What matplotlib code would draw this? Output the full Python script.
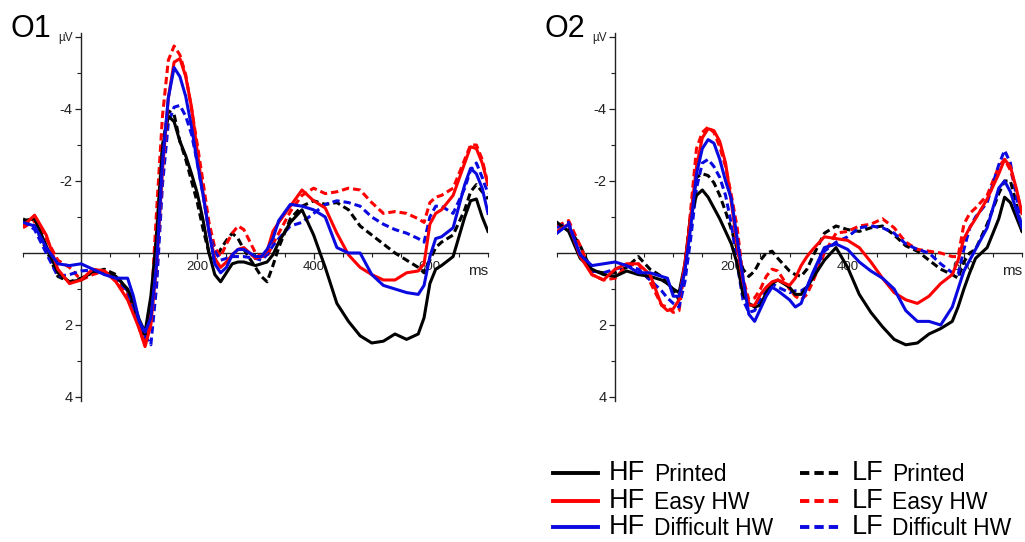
import matplotlib.pyplot as plt
from matplotlib.lines import Line2D

plt.rcParams['font.family'] = ['Liberation Sans', 'DejaVu Sans']

# sample times (ms) shared by every waveform
time_ms = [-100, -80, -60, -40, -20, 0, 20, 40, 60, 80, 90, 100, 110, 120, 130,
           140, 150, 160, 170, 180, 190, 200, 210, 220, 230, 240, 250, 260, 270, 280,
           300, 310, 320, 330, 340, 360, 380, 400, 420, 440, 460, 480, 500, 520, 540,
           560, 580, 590, 600, 610, 620, 640, 660, 670, 680, 690, 700]

# ---- O1 (µV, negative plotted up) ----
o1_hf_printed = [-0.9, -0.95, -0.2, 0.55, 0.8, 0.75, 0.5, 0.55, 0.65, 1.0, 1.35, 1.85, 2.2, 1.2, -0.4,
                 -2.9, -3.8, -3.65, -3.1, -2.7, -2.2, -1.65, -0.9, 0.0, 0.6, 0.8, 0.55, 0.3, 0.25, 0.25,
                 0.35, 0.3, 0.25, 0.05, -0.3, -0.85, -1.2, -0.5, 0.4, 1.4, 1.9, 2.3, 2.5, 2.45, 2.25,
                 2.4, 2.25, 1.8, 0.85, 0.45, 0.35, 0.1, -1.0, -1.45, -1.5, -1.0, -0.6]
o1_hf_easy = [-0.75, -1.05, -0.5, 0.45, 0.85, 0.75, 0.45, 0.5, 0.8, 1.3, 1.7, 2.1, 2.6, 2.0, 0.3,
              -2.3, -4.3, -5.3, -5.4, -4.9, -4.05, -2.8, -1.65, -0.6, 0.15, 0.4, 0.25, 0.05, -0.1, -0.15,
              0.15, 0.1, -0.05, -0.6, -0.85, -1.3, -1.75, -1.45, -1.25, -0.55, 0.05, 0.4, 0.6, 0.75, 0.75,
              0.55, 0.5, 0.3, -0.8, -1.1, -1.2, -1.6, -2.5, -2.95, -2.9, -2.5, -1.9]
o1_hf_diff = [-0.85, -0.75, -0.15, 0.3, 0.35, 0.3, 0.45, 0.6, 0.7, 0.7, 1.2, 1.9, 2.2, 1.8, 0.3,
              -2.5, -4.3, -5.15, -4.9, -4.35, -3.5, -2.5, -1.6, -0.6, 0.3, 0.55, 0.4, 0.05, -0.1, -0.1,
              0.1, 0.1, -0.1, -0.4, -0.9, -1.35, -1.3, -1.2, -1.0, -0.15, 0.0, 0.0, 0.6, 0.9, 1.0,
              1.1, 1.15, 0.9, 0.1, -0.4, -0.45, -0.7, -1.9, -2.35, -2.2, -1.8, -1.1]
o1_lf_printed = [-0.95, -0.75, -0.1, 0.65, 0.8, 0.7, 0.55, 0.45, 0.6, 1.05, 1.6, 2.0, 2.4, 1.5, -0.6,
                 -3.0, -3.95, -3.85, -3.1, -2.6, -2.0, -1.4, -0.65, 0.0, 0.2, -0.1, -0.35, -0.55, -0.4, -0.1,
                 0.4, 0.65, 0.8, 0.35, -0.15, -0.95, -1.3, -1.45, -1.35, -1.4, -1.2, -0.75, -0.5, -0.25, 0.0,
                 0.2, 0.4, 0.55, 0.2, -0.15, -0.3, -0.5, -1.2, -1.7, -1.9, -1.7, -1.5]
o1_lf_easy = [-0.7, -0.9, -0.4, 0.2, 0.4, 0.75, 0.6, 0.5, 0.75, 1.15, 1.6, 2.1, 2.55, 1.6, -1.2,
              -3.8, -5.35, -5.75, -5.5, -4.95, -4.0, -3.0, -1.95, -0.85, -0.15, 0.1, -0.25, -0.55, -0.75, -0.65,
              0.0, 0.1, 0.1, -0.25, -0.55, -1.15, -1.6, -1.8, -1.65, -1.7, -1.8, -1.75, -1.4, -1.1, -1.15,
              -1.1, -0.95, -0.85, -1.4, -1.55, -1.6, -1.8, -2.6, -3.0, -3.0, -2.6, -1.9]
o1_lf_diff = [-0.9, -0.65, 0.0, 0.65, 0.6, 0.5, 0.47, 0.55, 0.7, 1.05, 1.55, 1.95, 2.3, 2.55, 0.9,
              -1.9, -3.6, -4.05, -4.1, -3.8, -3.3, -2.5, -1.6, -0.6, -0.05, 0.2, 0.15, 0.1, 0.1, 0.1,
              0.15, 0.2, 0.05, -0.2, -0.4, -0.75, -0.85, -1.1, -1.35, -1.45, -1.4, -1.3, -1.0, -0.8, -0.65,
              -0.55, -0.4, -0.3, -1.0, -1.3, -1.3, -1.1, -1.8, -2.3, -2.5, -2.1, -1.65]

# ---- O2 ----
o2_hf_printed = [-0.85, -0.6, 0.15, 0.45, 0.6, 0.65, 0.5, 0.6, 0.65, 0.75, 0.85, 1.0, 1.1, 0.3, -1.0,
                 -1.6, -1.75, -1.55, -1.25, -0.95, -0.6, -0.25, 0.3, 1.15, 1.4, 1.5, 1.45, 1.1, 0.85, 0.75,
                 0.95, 1.15, 1.15, 0.95, 0.7, 0.2, -0.15, 0.4, 1.15, 1.65, 2.05, 2.4, 2.55, 2.5, 2.25,
                 2.1, 1.9, 1.5, 1.0, 0.55, 0.15, -0.15, -0.95, -1.55, -1.4, -1.0, -0.6]
o2_hf_easy = [-0.6, -0.8, 0.1, 0.6, 0.75, 0.45, 0.3, 0.3, 0.6, 1.45, 1.6, 1.55, 1.3, 0.3, -1.0,
              -2.4, -3.2, -3.45, -3.4, -3.1, -2.5, -1.4, -0.2, 0.8, 1.45, 1.45, 1.15, 0.95, 0.8, 0.75,
              0.9, 0.7, 0.35, 0.1, -0.1, -0.45, -0.4, -0.35, -0.15, 0.25, 0.7, 1.1, 1.3, 1.4, 1.2,
              0.85, 0.6, 0.2, -0.4, -0.7, -0.95, -1.5, -2.2, -2.6, -2.4, -1.8, -1.1]
o2_hf_diff = [-0.55, -0.8, 0.05, 0.35, 0.3, 0.25, 0.35, 0.55, 0.55, 0.65, 0.7, 1.2, 1.2, 0.5, -0.7,
              -2.2, -2.9, -3.15, -3.05, -2.6, -2.0, -1.5, -0.4, 0.7, 1.7, 1.9, 1.55, 1.2, 0.95, 1.05,
              1.3, 1.5, 1.4, 0.95, 0.55, -0.15, -0.25, -0.1, 0.25, 0.5, 0.7, 1.0, 1.6, 1.9, 1.9,
              2.0, 1.5, 1.0, 0.5, 0.2, -0.1, -0.7, -1.8, -2.0, -1.7, -1.2, -0.7]
o2_lf_printed = [-0.8, -0.7, -0.2, 0.5, 0.55, 0.55, 0.4, 0.1, 0.45, 0.65, 0.85, 1.05, 1.3, 0.4, -1.0,
                 -2.1, -2.2, -2.15, -1.95, -1.6, -1.15, -0.65, -0.1, 0.45, 0.65, 0.5, 0.2, 0.0, -0.05, 0.15,
                 0.5, 0.6, 0.65, 0.45, 0.1, -0.55, -0.75, -0.65, -0.6, -0.7, -0.75, -0.5, -0.2, -0.05, 0.2,
                 0.45, 0.6, 0.7, 0.25, 0.0, -0.1, -0.8, -1.65, -2.0, -2.0, -1.4, -0.6]
o2_lf_easy = [-0.75, -0.9, -0.2, 0.6, 0.75, 0.7, 0.35, 0.3, 0.8, 1.45, 1.5, 1.65, 1.6, 0.4, -1.2,
              -2.9, -3.35, -3.5, -3.35, -2.95, -2.4, -1.6, -0.7, 0.7, 1.3, 1.25, 1.0, 0.65, 0.45, 0.5,
              1.0, 1.2, 1.3, 1.15, 0.8, 0.0, -0.55, -0.6, -0.75, -0.8, -0.95, -0.7, -0.3, -0.1, -0.05,
              0.0, 0.1, 0.1, -0.8, -1.1, -1.25, -1.6, -2.4, -2.6, -2.3, -1.75, -1.1]
o2_lf_diff = [-0.7, -0.85, 0.1, 0.5, 0.55, 0.45, 0.35, 0.45, 0.75, 1.05, 1.25, 1.4, 1.5, 0.8, -0.4,
              -1.8, -2.5, -2.6, -2.4, -2.1, -1.6, -0.8, 0.3, 1.3, 1.65, 1.6, 1.3, 1.0, 0.85, 0.95,
              1.1, 1.05, 1.05, 0.95, 0.6, -0.05, -0.3, -0.45, -0.7, -0.75, -0.7, -0.55, -0.25, -0.1, 0.0,
              0.3, 0.55, 0.6, -0.1, -0.7, -1.0, -1.4, -2.45, -2.85, -2.5, -1.6, -0.6]

condition_names = ["Printed", "Easy HW", "Difficult HW"]
condition_colors = ["#000000", "#ff0000", "#0a0ae0"]

DASHES = (2.4, 1.3)
LW = 2.2


def draw_panel(ax, hf_list, lf_list):
    # dashed (LF) underneath, solid (HF) on top
    for vals, col in zip(lf_list, condition_colors):
        ax.plot(time_ms, vals, color=col, lw=LW, dashes=DASHES, zorder=3)
    for vals, col in zip(hf_list, condition_colors):
        ax.plot(time_ms, vals, color=col, lw=LW, zorder=4)

    ax.set_xlim(-100, 700)
    ax.set_ylim(4.1, -6.1)
    ax.spines['left'].set_position(('data', 0))
    ax.spines['bottom'].set_position(('data', 0))
    ax.spines['top'].set_visible(False)
    ax.spines['right'].set_visible(False)
    for s in ('left', 'bottom'):
        ax.spines[s].set_linewidth(1.0)
        ax.spines[s].set_color('#222222')

    ax.set_xticks([200, 400, 600])
    ax.set_xticklabels(['200', '400', '600'], fontsize=9.5, color='#222222')
    ax.set_xticks(range(-100, 701, 50), minor=True)
    ax.set_yticks([-6, -4, -2, 2, 4])
    ax.set_yticklabels(['µV', '-4', '-2', '2', '4'], fontsize=10.5, color='#222222')
    ax.get_yticklabels()[0].set_fontsize(8.5)
    ax.set_yticks([-5, -3, -1, 1, 3], minor=True)
    ax.tick_params(axis='both', which='major', direction='out', length=4, width=0.9,
                   color='#222222', pad=2)
    ax.tick_params(axis='both', which='minor', direction='out', length=3, width=0.8,
                   color='#222222')
    ax.text(700, 0.3, 'ms', ha='right', va='top', fontsize=11, color='#222222')
    ax.patch.set_alpha(0)


fig = plt.figure(figsize=(10.25, 5.42), dpi=100)
ax1 = fig.add_axes([0.0224, 0.2609, 0.4537, 0.6775])
ax2 = fig.add_axes([0.5434, 0.2609, 0.4537, 0.6775])

draw_panel(ax1, [o1_hf_printed, o1_hf_easy, o1_hf_diff], [o1_lf_printed, o1_lf_easy, o1_lf_diff])
draw_panel(ax2, [o2_hf_printed, o2_hf_easy, o2_hf_diff], [o2_lf_printed, o2_lf_easy, o2_lf_diff])

fig.text(10 / 1025, 1 - 37 / 542, "O1", fontsize=22, va='baseline')
fig.text(545 / 1025, 1 - 37 / 542, "O2", fontsize=22, va='baseline')

# legend drawn by hand: big group tag + smaller condition name
W, H = 1025, 542
row_y = [473, 501, 527]
for i, (name, col) in enumerate(zip(condition_names, condition_colors)):
    yf = 1 - row_y[i] / H
    fig.add_artist(Line2D([553 / W, 598 / W], [yf, yf], color=col, lw=2.8,
                          transform=fig.transFigure))
    fig.add_artist(Line2D([800 / W, 843 / W], [yf, yf], color=col, lw=2.8, dashes=(2.4, 1.3),
                          transform=fig.transFigure))
    fig.text(609 / W, yf, "HF", fontsize=19.5, va='center')
    fig.text(654 / W, yf - 0.002, name, fontsize=16.5, va='center')
    fig.text(852 / W, yf, "LF", fontsize=19.5, va='center')
    fig.text(892 / W, yf - 0.002, name, fontsize=16.5, va='center')

fig.savefig("out.png", dpi=100)
